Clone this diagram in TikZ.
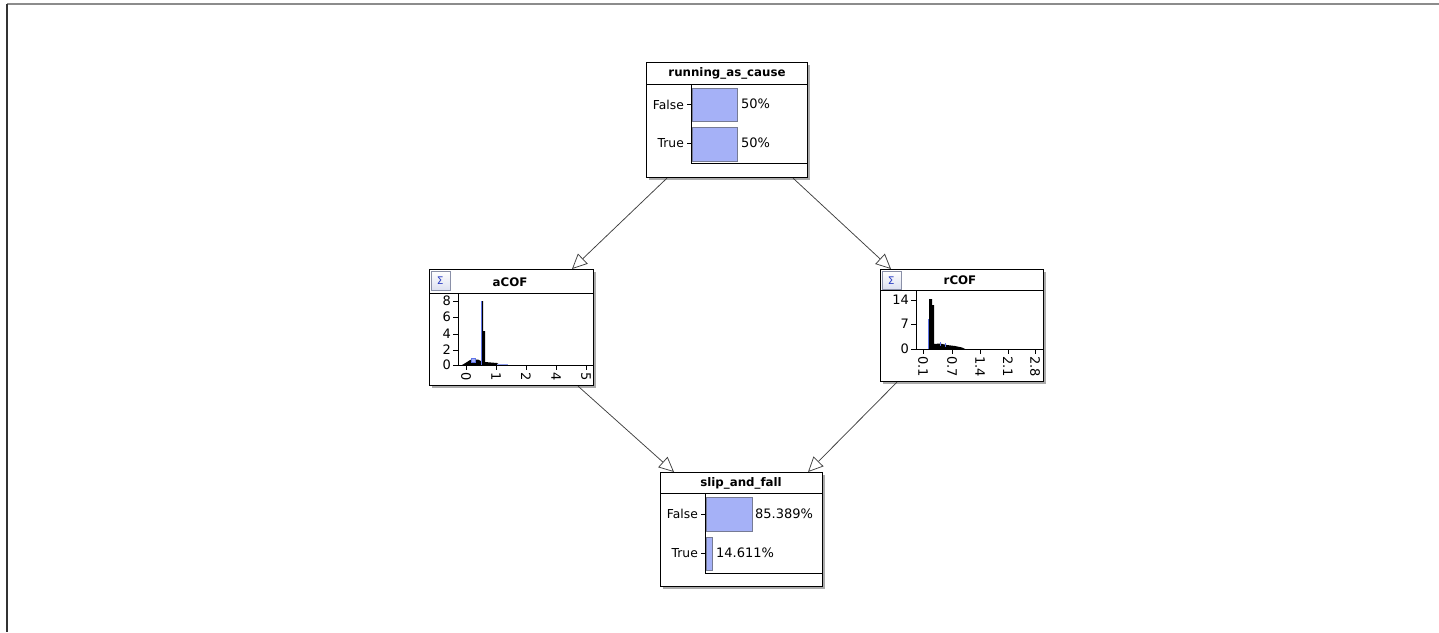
\documentclass[tikz,border=0pt]{standalone}
\usepackage{fontspec}
\setmainfont{DejaVu Sans}
\usetikzlibrary{arrows.meta,calc,shadows}
\definecolor{barfill}{HTML}{A5B1F7}
\definecolor{barline}{HTML}{767B94}
\definecolor{sigblue}{HTML}{2B3EC2}
\definecolor{btnfill}{HTML}{DCE0F0}
\definecolor{btnline}{HTML}{8A90A8}
\definecolor{histblue}{HTML}{5F74E8}
\begin{document}
\begin{tikzpicture}[x=1pt,y=-1pt,
  box/.style={draw=black, line width=1.1pt, fill=white, inner sep=0pt, anchor=north west,
    drop shadow={shadow xshift=2.5pt, shadow yshift=-2.5pt, fill=black!55, opacity=0.6}},
  titletext/.style={font=\bfseries\fontsize{11.8}{13}\selectfont},
  statelab/.style={font=\fontsize{12.3}{14}\selectfont, anchor=east, inner sep=0pt},
  pcttext/.style={font=\fontsize{13}{14}\selectfont, anchor=west, inner sep=0pt},
  ticklab/.style={font=\fontsize{13}{14}\selectfont, inner sep=0pt},
  xticklab/.style={font=\fontsize{13}{14}\selectfont, inner sep=0pt, rotate=-90, anchor=west},
  bar/.style={fill=barfill, draw=barline, line width=0.6pt},
  axisline/.style={line width=0.9pt},
  btn/.style={draw=btnline, line width=0.6pt, top color=white, bottom color=btnfill, inner sep=0pt,
    anchor=north west, minimum width=19pt, minimum height=19pt,
    font=\fontsize{10.5}{11}\selectfont\color{sigblue}},
  arr/.style={draw=black!75, line width=0.75pt, -{Triangle[length=15pt, width=14pt, fill=white]}}]

\useasboundingbox (0,0) rectangle (1439,632);
\fill[white] (0,0) rectangle (1439,632);

% window frame
\draw[black!45, line width=2pt] (7,4) -- (1439,4);
\draw[black!80, line width=2pt] (7,4) -- (7,632);

% ---------- running_as_cause ----------
\node[box, minimum width=161pt, minimum height=115pt] (run) at (646,62) {};
\node[titletext] (runtitle) at (727,73) {running\_as\_cause};
\draw[line width=0.9pt] (646,84) -- (807,84);
\draw[bar] (692,88) rectangle (737,121);
\draw[bar] (692,127) rectangle (737,161);
\draw[axisline] (691,84) -- (691,163) -- (807,163);
\draw (687,104.5) -- (691,104.5);
\draw (687,143.5) -- (691,143.5);
\node[statelab] (runf) at (684,104.5) {False};
\node[statelab] (runt) at (684,143.5) {True};
\node[pcttext] (runpf) at (741,104) {50\%};
\node[pcttext] (runpt) at (741,143) {50\%};

% ---------- aCOF ----------
\node[box, minimum width=164pt, minimum height=116pt] (acof) at (429,269) {};
\draw[line width=0.9pt] (429,293) -- (593,293);
\node[btn] (acofbtn) at (430.5,271) {Σ};
\node[titletext] (acoftitle) at (510,282) {aCOF};
% histogram
\fill[black] (462,365) -- (467,362) -- (470,360) -- (478,359.5) -- (481,361)
  -- (481,301) -- (483,301) -- (483,331) -- (485,331) -- (485,362)
  -- (497,363) -- (500,365) -- cycle;
\draw[histblue, line width=0.8pt] (481.6,365) -- (481.6,301);
\draw[histblue, fill=barfill, line width=0.5pt] (471.5,358) rectangle (475.5,362);
\draw[histblue!70, line width=0.8pt] (497,364) -- (508,364);
\draw[axisline] (458,294) -- (458,365) -- (593,365);
\foreach \yy/\lab in {301/8,317/6,334/4,350/2,365/0}{
  \draw (453,\yy) -- (458,\yy);
  \node[ticklab, anchor=east] at (451,\yy) {\lab};
}
\foreach \xx/\lab in {466/0,496/1,526/2,556/4,586/5}{
  \draw (\xx,365) -- (\xx,370);
  \node[xticklab] at (\xx,372) {\lab};
}

% ---------- rCOF ----------
\node[box, minimum width=163pt, minimum height=112pt] (rcof) at (880,269) {};
\draw[line width=0.9pt] (880,290) -- (1043,290);
\node[btn, minimum height=18pt] (rcofbtn) at (881.5,271) {Σ};
\node[titletext] (rcoftitle) at (960,280) {rCOF};
% histogram
\fill[black] (928,349) -- (929,349) -- (929,299) -- (932,299) -- (932,305) -- (934,305)
  -- (934,344) -- (940,343.5) -- (947,345) -- (955,346) -- (962,347.5) -- (965,349) -- cycle;
\draw[histblue, line width=0.8pt] (928,319) -- (928,349);
\draw[histblue, line width=0.8pt] (940,342) -- (940,346);
\draw[histblue, line width=0.8pt] (945,343) -- (945,347);
\draw[axisline] (916,291) -- (916,349) -- (1043,349);
\foreach \yy/\lab in {300/14,324/7,349/0}{
  \draw (911,\yy) -- (916,\yy);
  \node[ticklab, anchor=east] at (909,\yy) {\lab};
}
\foreach \xx/\lab in {923/0.1,952/0.7,980/1.4,1008/2.1,1035/2.8}{
  \draw (\xx,349) -- (\xx,354);
  \node[xticklab] at (\xx,356) {\lab};
}

% ---------- slip_and_fall ----------
\node[box, minimum width=162pt, minimum height=114pt] (slip) at (660,472) {};
\node[titletext] (sliptitle) at (741,483) {slip\_and\_fall};
\draw[line width=0.9pt] (660,493) -- (822,493);
\draw[bar] (706,497) rectangle (752,531);
\draw[bar] (706,537) rectangle (712,570);
\draw[axisline] (705,493) -- (705,573) -- (822,573);
\draw (701,514) -- (705,514);
\draw (701,553) -- (705,553);
\node[statelab] (slipf) at (698,514) {False};
\node[statelab] (slipt) at (698,553) {True};
\node[pcttext] (slippf) at (755,514) {85.389\%};
\node[pcttext] (slippt) at (716,553) {14.611\%};

% ---------- connectors ----------
\draw[arr] ([xshift=21pt]run.south west) -- ([xshift=143pt]acof.north west);
\draw[arr] ([xshift=147pt]run.south west) -- ([xshift=11pt]rcof.north west);
\draw[arr] ([xshift=149pt]acof.south west) -- ([xshift=14pt]slip.north west);
\draw[arr] ([xshift=17pt]rcof.south west) -- ([xshift=148pt]slip.north west);
\end{tikzpicture}
\end{document}
